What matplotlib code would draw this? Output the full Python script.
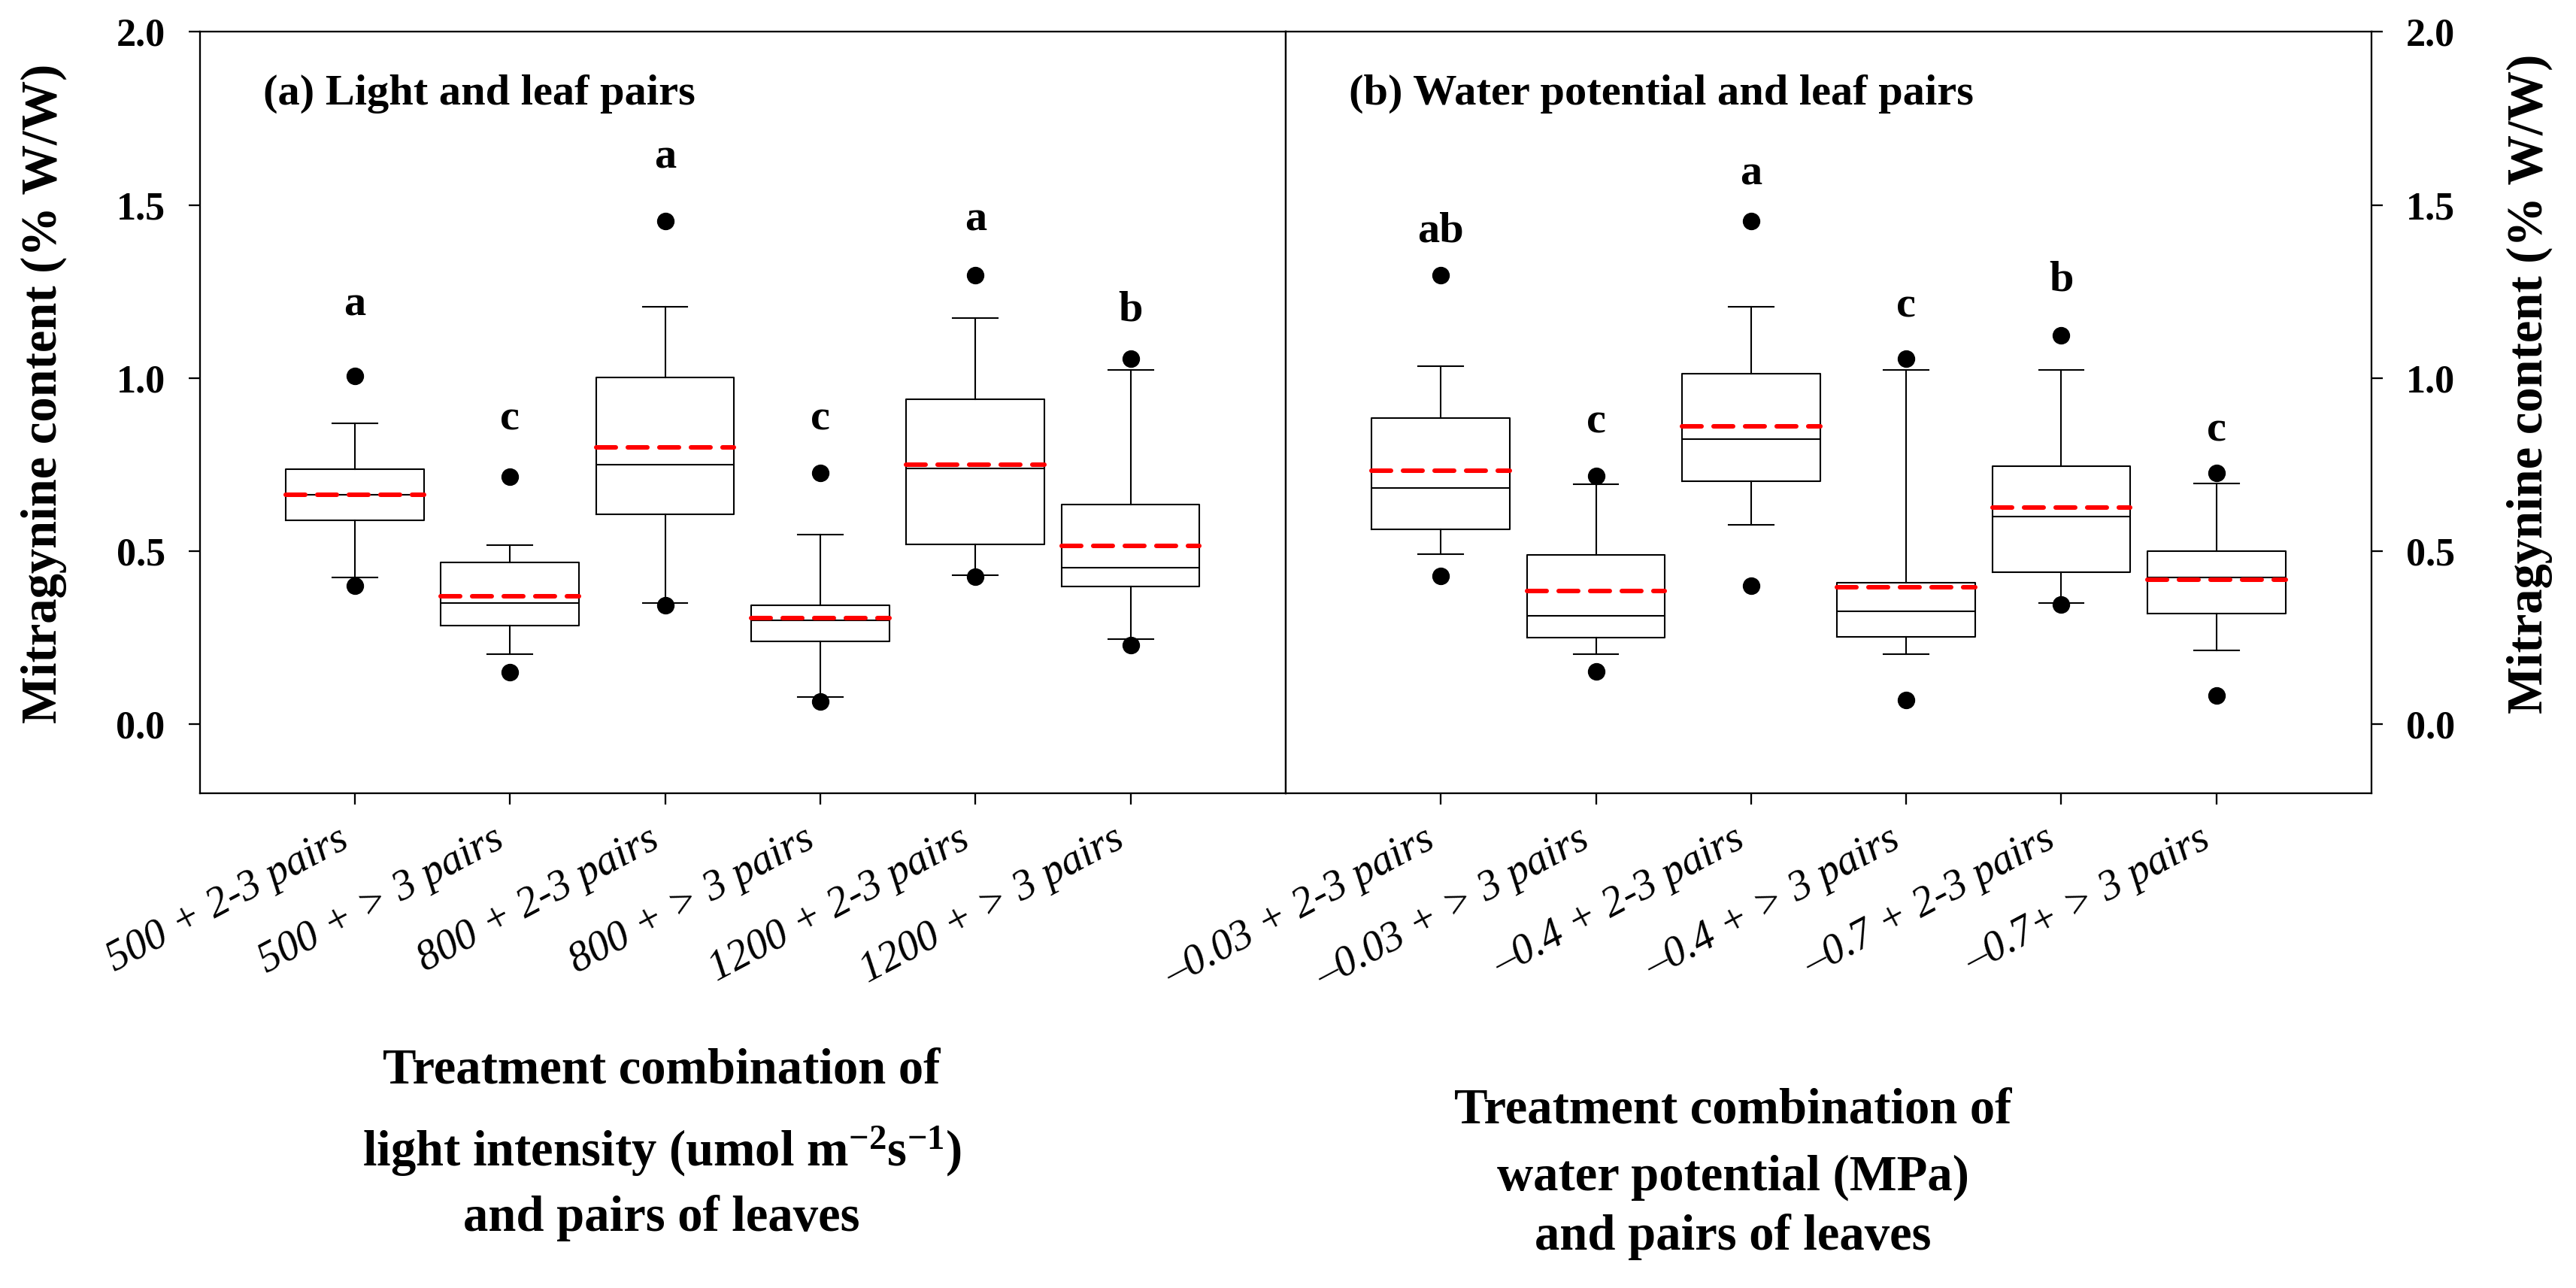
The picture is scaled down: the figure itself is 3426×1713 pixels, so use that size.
import matplotlib
matplotlib.use("Agg")
import matplotlib.pyplot as plt

plt.rcParams.update({
    "font.family": "Liberation Serif",
    "mathtext.fontset": "custom",
    "mathtext.rm": "Liberation Serif:bold",
    "mathtext.bf": "Liberation Serif:bold",
    "mathtext.it": "Liberation Serif:bold",
    "axes.linewidth": 0.55,
})

# (a) light intensity x leaf pairs
LIGHT_LABELS = ["500 + 2-3 pairs", "500 + > 3 pairs", "800 + 2-3 pairs",
                "800 + > 3 pairs", "1200 + 2-3 pairs", "1200 + > 3 pairs"]
LIGHT_WHISLO = [0.423, 0.202, 0.349, 0.078, 0.429, 0.245]
LIGHT_Q1 = [0.588, 0.283, 0.606, 0.238, 0.518, 0.396]
LIGHT_MED = [0.663, 0.350, 0.748, 0.299, 0.737, 0.452]
LIGHT_MEAN = [0.663, 0.368, 0.800, 0.305, 0.749, 0.515]
LIGHT_Q3 = [0.736, 0.467, 1.002, 0.343, 0.938, 0.633]
LIGHT_WHISHI = [0.869, 0.516, 1.206, 0.546, 1.173, 1.022]
LIGHT_OUT_HI = [1.005, 0.715, 1.454, 0.724, 1.297, 1.056]
LIGHT_OUT_LO = [0.398, 0.150, 0.343, 0.064, 0.425, 0.227]
LIGHT_LETTERS = ["a", "c", "a", "c", "a", "b"]
LIGHT_LETTER_Y = [1.21, 0.88, 1.637, 0.88, 1.457, 1.195]

# (b) water potential x leaf pairs
WATER_LABELS = ["\u20130.03 + 2-3 pairs", "\u20130.03 + > 3 pairs", "\u20130.4 + 2-3 pairs",
                "\u20130.4 + > 3 pairs", "\u20130.7 + 2-3 pairs", "\u20130.7+ > 3 pairs"]
WATER_WHISLO = [0.491, 0.202, 0.574, 0.202, 0.350, 0.212]
WATER_Q1 = [0.562, 0.248, 0.702, 0.251, 0.438, 0.319]
WATER_MED = [0.682, 0.313, 0.823, 0.326, 0.600, 0.422]
WATER_MEAN = [0.731, 0.383, 0.859, 0.395, 0.624, 0.417]
WATER_Q3 = [0.884, 0.488, 1.011, 0.407, 0.745, 0.500]
WATER_WHISHI = [1.034, 0.693, 1.206, 1.023, 1.022, 0.694]
WATER_OUT_HI = [1.297, 0.717, 1.454, 1.056, 1.122, 0.726]
WATER_OUT_LO = [0.428, 0.151, 0.399, 0.069, 0.344, 0.082]
WATER_LETTERS = ["ab", "c", "a", "c", "b", "c"]
WATER_LETTER_Y = [1.424, 0.871, 1.589, 1.207, 1.282, 0.848]

YTICKS = [0.0, 0.5, 1.0, 1.5, 2.0]
YLABEL = "Mitragynine content (% W/W)"


def draw_panel(ax, labels, lo, q1, med, mean, q3, hi, out_hi, out_lo, letters, letter_y, title):
    stats = []
    for i in range(len(labels)):
        stats.append(dict(whislo=lo[i], q1=q1[i], med=med[i], mean=mean[i], q3=q3[i],
                          whishi=hi[i], fliers=[out_hi[i], out_lo[i]], label=labels[i]))
    line = dict(color="black", linewidth=0.5)
    ax.bxp(stats, positions=range(1, len(stats) + 1), widths=0.89, capwidths=0.29,
           showmeans=True, meanline=True,
           boxprops=line, whiskerprops=line, capprops=line,
           medianprops=dict(color="black", linewidth=0.5),
           meanprops=dict(color="red", linewidth=1.45, linestyle=(0, (4.3, 2.65)),
                          dash_capstyle="round"),
           flierprops=dict(marker="o", markerfacecolor="black", markeredgecolor="black",
                           markersize=4.6))
    for i, (letter, y) in enumerate(zip(letters, letter_y)):
        ax.text(i + 1, y, letter, ha="center", va="center", fontsize=14, fontweight="bold")
    ax.text(0.0585, 0.9047, title, transform=ax.transAxes, ha="left", va="baseline",
            fontsize=14, fontweight="bold")
    ax.set_xlim(0, 7)
    ax.set_ylim(-0.2, 2.0)
    ax.set_yticks(YTICKS)
    ax.set_yticklabels([f"{v:.1f}" for v in YTICKS], fontsize=12.5, fontweight="bold")
    ax.set_xticks(range(1, len(labels) + 1))
    ax.set_xticklabels(labels, rotation=28, ha="right", fontsize=13.5, style="italic")
    ax.tick_params(direction="out", length=3.5, width=0.55)
    ax.tick_params(axis="y", pad=7.5)
    ax.tick_params(axis="x", pad=5)


fig = plt.figure(figsize=(11.42, 5.71), dpi=300)
ax_a = fig.add_axes([0.0775, 0.38441, 0.42162, 0.59078])
ax_b = fig.add_axes([0.49912, 0.38441, 0.42149, 0.59078])

draw_panel(ax_a, LIGHT_LABELS, LIGHT_WHISLO, LIGHT_Q1, LIGHT_MED, LIGHT_MEAN, LIGHT_Q3,
           LIGHT_WHISHI, LIGHT_OUT_HI, LIGHT_OUT_LO, LIGHT_LETTERS, LIGHT_LETTER_Y,
           "(a) Light and leaf pairs")
draw_panel(ax_b, WATER_LABELS, WATER_WHISLO, WATER_Q1, WATER_MED, WATER_MEAN, WATER_Q3,
           WATER_WHISHI, WATER_OUT_HI, WATER_OUT_LO, WATER_LETTERS, WATER_LETTER_Y,
           "(b) Water potential and leaf pairs")

ax_a.tick_params(axis="y", left=True, right=False)
ax_b.yaxis.tick_right()
ax_b.tick_params(axis="y", left=False, right=True, labelleft=False, labelright=True)

# y-axis titles on both sides
fig.text(0.0169, 0.6947, YLABEL, rotation=90, ha="center", va="center",
         fontsize=16, fontweight="bold")
fig.text(0.9819, 0.7023, YLABEL, rotation=90, ha="center", va="center",
         fontsize=16, fontweight="bold")

# x-axis titles, one text per line
left_lines = ["Treatment combination of",
              "light intensity (umol m$^{\\mathbf{-2}}$s$^{\\mathbf{-1}}$)",
              "and pairs of leaves"]
for text, y in zip(left_lines, [0.1588, 0.0946, 0.0444]):
    fig.text(0.2569, y, text, ha="center", va="baseline", fontsize=16, fontweight="bold")

right_lines = ["Treatment combination of", "water potential (MPa)", "and pairs of leaves"]
for text, y in zip(right_lines, [0.1284, 0.0759, 0.0298]):
    fig.text(0.6728, y, text, ha="center", va="baseline", fontsize=16, fontweight="bold")

fig.savefig("out.png", dpi=300)
plt.close(fig)
